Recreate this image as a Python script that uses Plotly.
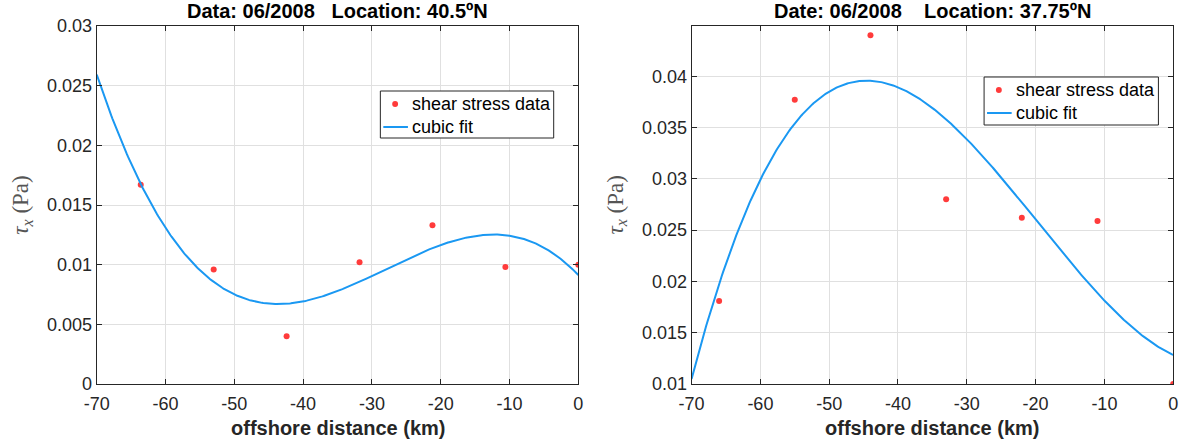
import numpy as np
import plotly.graph_objects as go

# Shear stress samples along the offshore transect, June 2008
dist_north = [-63.6, -53.0, -42.4, -31.8, -21.2, -10.6, 0.0]   # km, 40.5ºN
tau_north = [0.0167, 0.0096, 0.0040, 0.0102, 0.0133, 0.0098, 0.0100]  # Pa

dist_south = [-66.0, -55.0, -44.0, -33.0, -22.0, -11.0, 0.0]   # km, 37.75ºN
tau_south = [0.0181, 0.0377, 0.0440, 0.0280, 0.0262, 0.0259, 0.0100]  # Pa

x_ticks = [-70, -60, -50, -40, -30, -20, -10, 0]
y_ticks_north = [0, 0.005, 0.01, 0.015, 0.02, 0.025, 0.03]
y_ticks_south = [0.01, 0.015, 0.02, 0.025, 0.03, 0.035, 0.04]

titles = ["Data: 06/2008   Location: 40.5ºN", "Date: 06/2008    Location: 37.75ºN"]
legend_labels = ["shear stress data", "cubic fit"]

W, H = 1190, 443
M_T, M_B = 26, 59
PLOT_H = H - M_T - M_B
dom1 = [85 / W, 574 / W]
dom2 = [689 / W, 1178 / W]

RED = "#ff3b3b"
BLUE = "#1a98f2"
AX = "#262626"
SANS = "Liberation Sans, Arial, Helvetica, sans-serif"


def px(xp):
    """Horizontal pixel -> paper fraction."""
    return xp / W


def py(yp):
    """Vertical pixel (from top) -> paper fraction."""
    return (H - M_B - yp) / PLOT_H


def cubic_fit(x, y):
    coef = np.polyfit(x, y, 3)
    xs = np.linspace(-70, 0, 400)
    return xs, np.polyval(coef, xs)


fig = go.Figure()

for i, (dist, tau) in enumerate([(dist_north, tau_north), (dist_south, tau_south)]):
    xa = "x" if i == 0 else "x2"
    ya = "y" if i == 0 else "y2"
    fig.add_trace(go.Scatter(
        x=dist, y=tau, mode="markers", name=legend_labels[0],
        marker=dict(color=RED, size=6), xaxis=xa, yaxis=ya, showlegend=False))
    xs, ys = cubic_fit(dist, tau)
    fig.add_trace(go.Scatter(
        x=xs, y=ys, mode="lines", name=legend_labels[1],
        line=dict(color=BLUE, width=2), xaxis=xa, yaxis=ya, showlegend=False))

axis_common = dict(
    showline=True, linecolor=AX, linewidth=1, mirror="ticks",
    ticks="inside", ticklen=5, tickcolor=AX, tickwidth=1,
    showgrid=True, gridcolor="#e0e0e0", gridwidth=1, zeroline=False,
    tickfont=dict(family=SANS, size=18, color=AX),
)
x_text = [str(v) for v in x_ticks]

fig.update_layout(
    width=W, height=H,
    margin=dict(l=0, r=0, t=M_T, b=M_B),
    paper_bgcolor="white", plot_bgcolor="white",
    showlegend=False,
    xaxis=dict(domain=dom1, range=[-70, 0], tickvals=x_ticks, ticktext=x_text,
               anchor="y", ticklabelstandoff=3, **axis_common),
    yaxis=dict(domain=[0, 1], range=[0, 0.03], tickvals=y_ticks_north,
               ticktext=[f"{v:g}" for v in y_ticks_north], anchor="x", **axis_common),
    xaxis2=dict(domain=dom2, range=[-70, 0], tickvals=x_ticks, ticktext=x_text,
                anchor="y2", ticklabelstandoff=3, **axis_common),
    yaxis2=dict(domain=[0, 1], range=[0.01, 0.0449], tickvals=y_ticks_south,
                ticktext=[f"{v:g}" for v in y_ticks_south], anchor="x2", **axis_common),
)

annotations = []
shapes = []
for dom, title, ylab_x in [(dom1, titles[0], 17), (dom2, titles[1], 621)]:
    cx = (dom[0] + dom[1]) / 2
    annotations.append(dict(
        text=title, x=cx, y=py(11), xref="paper", yref="paper",
        xanchor="center", yanchor="middle", showarrow=False,
        font=dict(family=SANS, size=20, color="black", weight="bold")))
    annotations.append(dict(
        text="offshore distance (km)", x=cx, y=py(428),
        xref="paper", yref="paper", xanchor="center", yanchor="middle",
        showarrow=False, font=dict(family=SANS, size=20, color=AX, weight="bold")))
    annotations.append(dict(
        text="<i>τ</i><sub><i>x</i></sub> (Pa)", x=px(ylab_x), y=0.5, xshift=-8,
        xref="paper", yref="paper", xanchor="center", yanchor="middle",
        textangle=-90, showarrow=False,
        font=dict(family="Liberation Serif, Times New Roman, serif", size=23, color="#555555")))

# Legend boxes: (left, top, right, bottom) in pixels
for (x0, y0, x1, y1) in [(373, 91, 549, 138), (986, 77, 1163, 125)]:
    shapes.append(dict(type="rect", xref="paper", yref="paper",
                       x0=px(x0), x1=px(x1), y0=py(y1), y1=py(y0),
                       line=dict(color=AX, width=1), fillcolor="white", layer="above"))
    row1 = y0 + 13
    row2 = y0 + 36
    # marker sample
    shapes.append(dict(type="circle", xref="paper", yref="paper",
                       x0=px(x0 + 12), x1=px(x0 + 18), y0=py(row1 + 3), y1=py(row1 - 3),
                       line=dict(color=RED, width=0), fillcolor=RED, layer="above"))
    # line sample
    shapes.append(dict(type="line", xref="paper", yref="paper",
                       x0=px(x0 + 3), x1=px(x0 + 28), y0=py(row2), y1=py(row2),
                       line=dict(color=BLUE, width=2), layer="above"))
    for row, label in zip([row1, row2], legend_labels):
        annotations.append(dict(
            text=label, x=px(x0 + 30), y=py(row), xref="paper", yref="paper",
            xanchor="left", yanchor="middle", showarrow=False,
            font=dict(family=SANS, size=18, color="black")))

fig.update_layout(annotations=annotations, shapes=shapes)

fig.write_html("out.html")
